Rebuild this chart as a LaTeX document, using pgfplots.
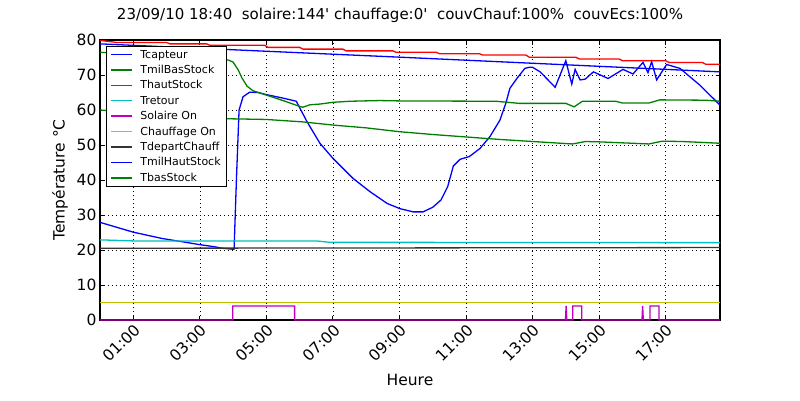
\documentclass[border=0pt]{standalone}
\usepackage{pgfplots}
\pgfplotsset{compat=1.18}
\usepackage{fontspec}
\setmainfont{DejaVu Sans}
\newfontfamily\plainfont{DejaVu Sans}
\definecolor{mblue}{rgb}{0,0,1}
\definecolor{mgreen}{rgb}{0,0.5,0}
\definecolor{mred}{rgb}{1,0,0}
\definecolor{mcyan}{rgb}{0,0.75,0.75}
\definecolor{mmag}{rgb}{0.75,0,0.75}
\definecolor{myel}{rgb}{0.75,0.75,0}
\begin{document}
\begin{tikzpicture}
\path[use as bounding box] (-100pt,-80pt) rectangle (700pt,320pt);
\begin{axis}[
  at={(0pt,0pt)}, anchor=south west,
  scale only axis, width=620pt, height=280pt,
  xmin=0, xmax=18.635, ymin=0, ymax=80,
  xtick={1,3,5,7,9,11,13,15,17},
  xticklabels={01:00,03:00,05:00,07:00,09:00,11:00,13:00,15:00,17:00},
  ytick={0,10,20,30,40,50,60,70,80},
  /pgf/number format/assume math mode=true,
  tick label style={font=\fontsize{15.5}{18}\selectfont},
  xticklabel style={rotate=45, anchor=north east, inner sep=2pt},
  tick align=inside, tick pos=both,
  major tick length=4.5pt,
  tick style={black, line width=0.8pt},
  axis line style={line width=1.1pt},
  grid=major,
  major grid style={black, line width=0.5pt, dash pattern=on 1pt off 3pt},
  xlabel={Heure}, ylabel={Température °C},
  label style={font=\fontsize{15.5}{18}\selectfont},
  x label style={at={(axis description cs:0.5,-0.214)}, anchor=center},
  y label style={at={(axis description cs:-0.0645,0.5)}, anchor=center},
  legend cell align=left,
  legend style={at={(axis description cs:0.0097,0.9786)}, anchor=north west,
    draw=black, fill=white, line width=1.1pt, font=\fontsize{11}{13}\selectfont,
    row sep=2.6pt, column sep=6pt, inner xsep=4pt, nodes={inner sep=1.5pt}},
  legend image code/.code={\draw[#1, line width=1.3pt] (0pt,0pt) -- (21pt,0pt);},
  every axis plot/.append style={line width=1.3pt},
]
% Tcapteur
\addplot[mblue] coordinates {
(0,27.9) (1.0,25.1) (1.86,23.3) (2.64,22.1) (2.95,21.6) (3.46,20.9) (3.67,20.5) (4.03,20.2)
(4.10,40) (4.18,60) (4.3,63.8) (4.5,65.1) (4.75,65.0) (5.0,64.4) (5.5,63.4) (5.9,62.5)
(6.22,56.7) (6.61,50.5) (7.0,46.2) (7.6,40.5) (8.11,36.7) (8.63,33.3) (9.02,31.8) (9.41,30.9)
(9.71,30.9) (10.0,32.2) (10.25,34.3) (10.45,38.1) (10.62,44) (10.82,45.9) (11.1,46.7) (11.42,49.0)
(11.72,52.4) (12.02,57.1) (12.2,62) (12.32,66.2) (12.53,69.0) (12.77,71.9) (12.9,72.2) (13.0,72.2)
(13.23,70.9) (13.68,66.5) (14.0,74.1) (14.18,67.4) (14.28,71.6) (14.43,68.6) (14.58,68.8) (14.83,70.9)
(15.27,69.0) (15.72,71.6) (16.02,70.3) (16.32,73.6) (16.47,70.7) (16.58,73.8) (16.73,68.6) (17.03,73.0)
(17.43,71.9) (18.03,67.1) (18.635,61.4)
};
\addlegendentry{Tcapteur}
% TmilBasStock
\addplot[mgreen] coordinates {
(0,76.5) (3.85,74.3) (4.0,73.7) (4.15,71.5) (4.27,69.1) (4.42,66.8) (4.6,65.5) (5.02,64.2)
(5.5,62.7) (6.01,61.0) (6.1,60.8) (6.31,61.5) (6.61,61.7) (7.0,62.2) (7.51,62.5) (8.4,62.7)
(9.0,62.6) (11.9,62.5) (12.6,61.9) (14.0,61.9) (14.25,60.9) (14.5,62.5) (15.5,62.5) (15.7,62.0)
(16.5,62.0) (16.83,62.9) (18.2,62.8) (18.635,62.5)
};
\addlegendentry{TmilBasStock}
% ThautStock
\addplot[mred] coordinates {
(0,79.9) (0.5,79.3) (2.0,79.3) (2.1,78.9) (3.2,78.9) (3.3,78.5) (4.95,78.5) (5.05,77.9)
(6.0,77.9) (6.1,77.4) (7.3,77.4) (7.4,76.9) (8.8,76.9) (8.9,76.5) (10.1,76.5) (10.2,76.1)
(11.4,76.1) (11.5,75.7) (12.8,75.7) (12.9,75.1) (14.3,75.1) (14.4,74.6) (15.6,74.6) (15.7,74.1)
(17.0,74.1) (17.1,73.6) (18.1,73.6) (18.2,73.1) (18.635,73.1)
};
\addlegendentry{ThautStock}
% Tretour
\addplot[mcyan] coordinates {
(0,22.9) (1.0,22.6) (6.5,22.6) (6.9,22.2) (18.635,22.1)
};
\addlegendentry{Tretour}
% Solaire On
\addplot[mmag] coordinates {
(0,0) (3.99,0) (3.99,4) (5.85,4) (5.85,0) (13.99,0) (14.01,4) (14.03,0) (14.21,0) (14.21,4)
(14.48,4) (14.48,0) (16.29,0) (16.31,4) (16.33,0) (16.53,0) (16.53,4) (16.80,4) (16.80,0) (18.635,0)
};
\addlegendentry{Solaire On}
% Chauffage On
\addplot[myel] coordinates {(0,5) (18.635,5)};
\addlegendentry{Chauffage On}
% TdepartChauff
\addplot[black!80] coordinates {(0,20.5) (18.635,20.7)};
\addlegendentry{TdepartChauff}
% TmilHautStock
\addplot[mblue] coordinates {(0,78.9) (9.0,75.1) (18.635,70.9)};
\addlegendentry{TmilHautStock}
% TbasStock
\addplot[mgreen] coordinates {
(0,60.0) (1,59.3) (2,58.6) (3,58.0) (3.84,57.5) (5.0,57.3) (6.1,56.6) (7.0,55.7) (8.0,54.9)
(9.0,53.8) (10.0,53.0) (11.0,52.3) (12.0,51.6) (13.0,51.0) (14.2,50.3) (14.6,51.0) (15.0,50.9)
(16.0,50.5) (16.5,50.3) (16.9,51.1) (17.5,51.0) (18.635,50.5)
};
\addlegendentry{TbasStock}
\end{axis}
\node[font=\plainfont\fontsize{15}{17}\selectfont] at (300pt,305pt)
  {23/09/10 18:40\ \ solaire:144' chauffage:0'\ \ couvChauf:100\%\ \ couvEcs:100\%};
\end{tikzpicture}
\end{document}
